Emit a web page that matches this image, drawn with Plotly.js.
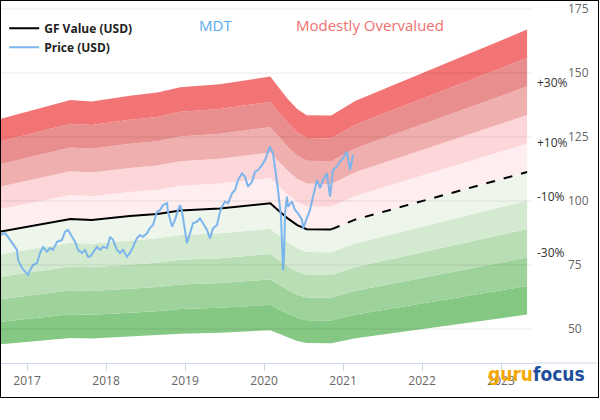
<!DOCTYPE html>
<html>
<head>
<meta charset="utf-8">
<script src="https://cdn.plot.ly/plotly-3.0.1.min.js"></script>
<style>
  html, body { margin: 0; padding: 0; background: #ffffff; }
  #wrap { position: relative; width: 600px; height: 420px; }
  #chart { position: absolute; left: 0; top: 0; width: 600px; height: 400px; }
  #frame { position: absolute; left: 0; top: 0; width: 597px; height: 396px; border: 1px solid #000; pointer-events: none; }
</style>
</head>
<body>
<div id="wrap"><div id="chart"></div><div id="frame"></div></div>
<script>
// ---- data ----
const ticker = 'MDT';
const verdict = 'Modestly Overvalued';

const gfDates  = [2016.658, 2017.55, 2017.82, 2018.30, 2018.65, 2018.94, 2019.44, 2020.08, 2020.15, 2020.30, 2020.42, 2020.54, 2020.85];
const gfValues = [88.0, 93.0, 92.6, 94.1, 94.9, 96.3, 97.1, 99.1, 97.2, 93.2, 90.6, 89.0, 88.9];

const gfEstDates  = [2020.85, 2021.16, 2023.33];
const gfEstValues = [88.9, 92.8, 111.3];

const priceDates = [
  2016.658, 2016.722, 2016.759, 2016.810, 2016.848, 2016.873, 2016.886, 2016.937, 2016.975, 2017.013,
  2017.038, 2017.076, 2017.127, 2017.165, 2017.203, 2017.253, 2017.291, 2017.329, 2017.380, 2017.443,
  2017.481, 2017.519, 2017.570, 2017.608, 2017.646, 2017.696, 2017.734, 2017.772, 2017.797, 2017.835,
  2017.886, 2017.924, 2017.962, 2018.013, 2018.051, 2018.089, 2018.139, 2018.177, 2018.215, 2018.266,
  2018.304, 2018.342, 2018.392, 2018.430, 2018.468, 2018.519, 2018.557, 2018.595, 2018.646, 2018.684,
  2018.722, 2018.772, 2018.785, 2018.835, 2018.873, 2018.911, 2018.937, 2018.962, 2019.000, 2019.025,
  2019.063, 2019.101, 2019.152, 2019.190, 2019.228, 2019.278, 2019.316, 2019.354, 2019.405, 2019.443,
  2019.468, 2019.506, 2019.544, 2019.595, 2019.633, 2019.671, 2019.722, 2019.759, 2019.797, 2019.848,
  2019.886, 2019.924, 2019.975, 2020.013, 2020.051, 2020.076, 2020.114, 2020.139, 2020.177, 2020.215,
  2020.241, 2020.253, 2020.266, 2020.291, 2020.304, 2020.354, 2020.392, 2020.430, 2020.481, 2020.494,
  2020.544, 2020.582, 2020.620, 2020.671, 2020.709, 2020.747, 2020.797, 2020.835, 2020.873, 2020.924,
  2020.962, 2021.000, 2021.051, 2021.089, 2021.127
];
const priceValues = [
  86.7, 87.4, 86.0, 83.6, 82.1, 80.9, 77.0, 73.8, 72.4, 71.1,
  73.0, 75.0, 75.8, 79.7, 82.0, 80.2, 81.6, 80.9, 84.1, 84.8,
  88.0, 88.7, 86.0, 84.1, 80.9, 79.7, 80.9, 78.2, 78.2, 79.7,
  82.1, 80.9, 82.1, 81.6, 86.0, 84.8, 80.9, 79.7, 80.9, 78.2,
  79.7, 82.1, 85.5, 86.7, 86.0, 87.4, 89.5, 90.6, 95.8, 96.5,
  98.4, 99.1, 95.8, 90.0, 92.6, 96.5, 98.4, 95.8, 88.7, 83.5,
  87.4, 91.3, 91.9, 93.2, 91.3, 88.7, 85.4, 89.3, 90.6, 95.8,
  97.8, 99.8, 99.1, 103.0, 104.3, 108.2, 110.8, 109.5, 105.6, 107.5,
  111.4, 112.1, 114.1, 116.0, 119.3, 121.2, 118.6, 113.4, 104.3, 93.9,
  73.0, 78.2, 95.2, 101.7, 97.8, 99.8, 96.5, 95.2, 92.6, 89.3,
  93.9, 96.5, 101.7, 108.2, 105.0, 108.2, 110.8, 101.7, 112.1, 113.4,
  115.4, 116.7, 119.3, 112.1, 118.0
];

const bandFactors = [0.5, 0.6, 0.7, 0.8, 0.9, 1.0, 1.1, 1.2, 1.3, 1.4, 1.5];
const bandLabels = ['+30%', '+10%', '-10%', '-30%'];
const bandLabelValues = [146.1, 123.0, 101.7, 79.7];

const yTicks = [50, 75, 100, 125, 150, 175];
const xTickYears = [2017, 2018, 2019, 2020, 2021, 2022, 2023];
const xTickLabels = ['2017', '2018', '2019', '2020', '2021', '2022', '2023'];

// ---- styles ----
const bandColors = ['#85c883', '#9dd29a', '#b9ddb4', '#d4ead0', '#eef6ec',
                    '#ffeef0', '#fdd6da', '#f0afaf', '#e88e8e', '#f27474'];
const FONT = 'Open Sans, DejaVu Sans, sans-serif';

const bandDates = gfDates.concat(gfEstDates.slice(1));
const bandBase = gfValues.concat(gfEstValues.slice(1));

const traces = [];
bandFactors.forEach((f, i) => {
  traces.push({
    x: bandDates,
    y: bandBase.map(v => v * f),
    type: 'scatter', mode: 'lines',
    line: { width: 0, color: 'rgba(0,0,0,0)' },
    fill: i === 0 ? 'none' : 'tonexty',
    fillcolor: i === 0 ? 'rgba(0,0,0,0)' : bandColors[i - 1],
    hoverinfo: 'skip', showlegend: false
  });
});

traces.push({
  x: gfDates, y: gfValues, type: 'scatter', mode: 'lines',
  name: 'GF Value (USD)', line: { color: '#000000', width: 2 }
});
traces.push({
  x: gfEstDates, y: gfEstValues, type: 'scatter', mode: 'lines',
  name: 'GF Value est', line: { color: '#000000', width: 2, dash: 'dash' },
  showlegend: false
});
traces.push({
  x: priceDates, y: priceValues, type: 'scatter', mode: 'lines',
  name: 'Price (USD)', line: { color: '#7cb5ec', width: 2 }
});

// plot area spans page x 1..533, y 1..363 ; 79 px per year, 2.56 px per unit
const PW = 532, PH = 362;
const x0 = 2016.658 + 1 / 79, x1 = 2016.658 + 533 / 79;
const yTop = 50 + (329 - 1) / 2.56, yBot = 50 - (363 - 329) / 2.56;

const shapes = yTicks.map(v => ({
  type: 'line', xref: 'paper', yref: 'y', x0: 0, x1: 1, y0: v, y1: v,
  line: { color: 'rgba(0,0,0,0.09)', width: 1 }, layer: 'above'
}));
// x-axis line continues under the right-hand label column
shapes.push({
  type: 'line', xref: 'paper', yref: 'paper', x0: 1, x1: (597 - 1) / PW, y0: 0, y1: 0,
  line: { color: '#ccd6eb', width: 1 }
});

const annotations = [];
bandLabels.forEach((t, i) => {
  annotations.push({
    text: t, xref: 'paper', yref: 'y', x: (535 - 1) / PW, y: bandLabelValues[i],
    xanchor: 'left', yanchor: 'middle', showarrow: false,
    font: { family: FONT, size: 12, color: '#333333' }
  });
});
annotations.push({
  text: ticker, xref: 'paper', yref: 'paper', x: (215 - 1) / PW, y: 1 - (25 - 1) / PH,
  xanchor: 'center', yanchor: 'middle', showarrow: false,
  font: { family: FONT, size: 15, color: '#5aa8f0' }
});
annotations.push({
  text: verdict, xref: 'paper', yref: 'paper', x: (370 - 1) / PW, y: 1 - (25 - 1) / PH,
  xanchor: 'center', yanchor: 'middle', showarrow: false,
  font: { family: FONT, size: 15, color: '#f07070' }
});
annotations.push({
  text: '<span style="color:#f5a800">guru</span><span style="color:#1f4e9c">focus</span>',
  xref: 'paper', yref: 'paper', x: (486 - 1) / PW, y: 1 - (374 - 1) / PH,
  xanchor: 'left', yanchor: 'middle', showarrow: false,
  font: { family: 'DejaVu Sans Condensed, DejaVu Sans, sans-serif', size: 19, weight: 'bold' }
});

const layout = {
  width: 600, height: 400,
  margin: { l: 1, r: 600 - 533, t: 1, b: 37, pad: 0 },
  paper_bgcolor: '#ffffff', plot_bgcolor: '#ffffff',
  showlegend: true,
  legend: {
    x: 0.006, y: 0.965, xanchor: 'left', yanchor: 'top', traceorder: 'normal',
    bgcolor: 'rgba(0,0,0,0)', borderwidth: 0, itemwidth: 30, tracegroupgap: 0,
    font: { family: FONT, size: 12, color: '#222222', weight: 'bold' }
  },
  xaxis: {
    type: 'linear', range: [x0, x1], fixedrange: true,
    tickvals: xTickYears, ticktext: xTickLabels,
    ticks: 'outside', ticklen: 7, tickcolor: '#ccd6eb', tickwidth: 1,
    showline: true, linecolor: '#ccd6eb', linewidth: 1,
    showgrid: false, zeroline: false,
    tickfont: { family: FONT, size: 12, color: '#666666' }
  },
  yaxis: {
    range: [yBot, yTop], fixedrange: true, side: 'right',
    tickvals: yTicks, ticktext: yTicks.map(String),
    ticklabelposition: 'outside', ticks: '', ticklabelstandoff: 34,
    showgrid: false, zeroline: false, showline: false,
    tickfont: { family: FONT, size: 12, color: '#666666' }
  },
  shapes: shapes,
  annotations: annotations
};

Plotly.newPlot('chart', traces, layout, { staticPlot: true, displayModeBar: false });
</script>
</body>
</html>
